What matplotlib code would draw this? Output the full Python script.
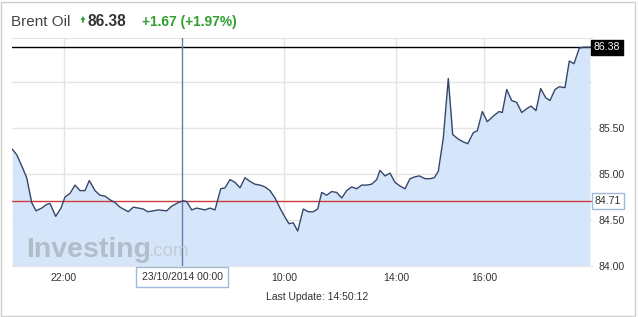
import matplotlib
matplotlib.use('Agg')
import matplotlib.pyplot as plt
from matplotlib.patches import Rectangle, Polygon

plt.rcParams['font.family'] = ['Liberation Sans', 'DejaVu Sans']

# sample positions along the (session) time axis and Brent prices
pos = [12.3, 16.7, 21.7, 26.7, 31.7, 36, 41.7, 46.7, 50, 55.7,
       61, 65, 70, 75, 80, 85, 89.3, 95, 100, 105,
       110, 115, 120, 125, 128.3, 133.3, 138.3, 143.3, 147.7, 153.3,
       158.3, 166.7, 171.7, 178.3, 183.3, 186.7, 191.7, 196.7, 205, 210,
       215, 220.7, 225, 230, 235, 240, 245, 250, 255, 260,
       265, 270, 275, 280, 285, 289, 293.3, 297.7, 303.3, 308.3,
       313.3, 317.7, 321.7, 326.7, 331.7, 336.7, 341.7, 346.7, 351.7, 356.7,
       361.7, 366.7, 371.7, 376.7, 380, 385, 390, 395, 400, 405,
       410, 415, 419.3, 425, 430, 434.3, 438.3, 443.3, 448.3, 452.7,
       458.3, 463.3, 467.7, 473.3, 477.3, 482.3, 487.3, 493.3, 499, 502.3,
       506.7, 511.7, 516.7, 521.7, 526.7, 531, 536, 540.7, 545.7, 550,
       555, 559.3, 565, 569.3, 574, 579.3, 583.3, 590]
price = [85.27, 85.21, 85.09, 84.96, 84.69, 84.60, 84.63, 84.67, 84.68, 84.54,
         84.63, 84.75, 84.79, 84.88, 84.82, 84.82, 84.93, 84.82, 84.77, 84.76,
         84.72, 84.69, 84.64, 84.61, 84.59, 84.64, 84.63, 84.62, 84.59, 84.60,
         84.61, 84.60, 84.65, 84.69, 84.71, 84.70, 84.61, 84.63, 84.61, 84.63,
         84.61, 84.84, 84.85, 84.94, 84.91, 84.85, 84.96, 84.92, 84.89, 84.88,
         84.86, 84.82, 84.74, 84.63, 84.53, 84.46, 84.47, 84.38, 84.62, 84.59,
         84.59, 84.62, 84.80, 84.77, 84.81, 84.80, 84.74, 84.82, 84.86, 84.84,
         84.88, 84.88, 84.89, 84.94, 85.04, 84.98, 85.01, 84.91, 84.87, 84.84,
         84.95, 84.97, 84.98, 84.95, 84.95, 84.96, 85.03, 85.39, 86.04, 85.43,
         85.38, 85.35, 85.33, 85.45, 85.47, 85.68, 85.57, 85.63, 85.68, 85.67,
         85.92, 85.80, 85.78, 85.67, 85.71, 85.74, 85.69, 85.93, 85.83, 85.80,
         85.92, 85.95, 85.94, 86.23, 86.20, 86.37, 86.38, 86.38]

tick_pos = [64, 182, 284, 396, 484]
tick_labels = ['22:00', '', '10:00', '14:00', '16:00']
y_ticks = [84.0, 84.5, 85.0, 85.5, 86.0]
y_labels = ['84.00', '84.50', '85.00', '85.50', '']

last_price = 86.38
prev_close = 84.71
cursor_pos = 182
cursor_label = '23/10/2014 00:00'

W, H = 638, 317
fig = plt.figure(figsize=(W / 100, H / 100), dpi=100)
fig.patch.set_facecolor('white')
fig.patches.append(Rectangle((1 / W, 1 / H), 634 / W, 314 / H, transform=fig.transFigure,
                             fill=False, edgecolor='#cfcfcf', linewidth=1))

ax = fig.add_axes([12 / W, 51 / H, 580 / W, 228 / H])
ax.set_xlim(12, 592)
ax.set_ylim(84.0, 86.48)

grid_c = '#e4e4e4'
for yv in y_ticks[1:]:
    ax.axhline(yv, color=grid_c, lw=1, zorder=0)
for xv in tick_pos:
    if xv != cursor_pos:
        ax.axvline(xv, color=grid_c, lw=1, zorder=0)

ax.fill_between(pos, price, 84.0, color='#d6e6fa', lw=0, zorder=1)
ax.plot(pos, price, color='#36456a', lw=1.0, zorder=4)

ax.axhline(prev_close, color='#cc3b3b', lw=1, zorder=3)
ax.axhline(last_price, color='black', lw=1, zorder=3)
ax.axvline(cursor_pos, color='#5f82aa', lw=1, zorder=3)

for s in ['top', 'bottom']:
    ax.spines[s].set_color(grid_c)
for s in ['left', 'right']:
    ax.spines[s].set_visible(False)

ax.set_xticks(tick_pos)
ax.set_xticklabels(tick_labels)
ax.yaxis.tick_right()
ax.set_yticks(y_ticks)
ax.set_yticklabels(y_labels)
ax.tick_params(axis='both', length=0, labelsize=7.6, labelcolor='#333333')
ax.tick_params(axis='x', pad=5)
ax.tick_params(axis='y', pad=5)

ytr = ax.get_yaxis_transform()
ax.text(1.003, last_price, '%.2f' % last_price, transform=ytr, ha='left', va='center',
        fontsize=7.6, color='white', zorder=6,
        bbox=dict(boxstyle='square,pad=0.25', fc='black', ec='black'))
ax.text(1.005, prev_close, '%.2f' % prev_close, transform=ytr, ha='left', va='center',
        fontsize=7.6, color='#333333', zorder=6,
        bbox=dict(boxstyle='square,pad=0.3', fc='white', ec='#9fb9d8'))

xtr = ax.get_xaxis_transform()
ax.text(cursor_pos, -0.048, cursor_label, transform=xtr, ha='center', va='center',
        fontsize=7.5, color='#333333', zorder=6,
        bbox=dict(boxstyle='square,pad=0.5', fc='white', ec='#9fb9d8'))

# header
green = '#2f9e2f'
fig.text(11 / W, 1 - 26 / H, 'Brent Oil', fontsize=11, color='#444444', va='baseline')
# small up arrow
arrow = [(80.5, 19.8), (83, 16.2), (85.5, 19.8), (83.9, 19.8), (83.9, 22.6),
         (82.1, 22.6), (82.1, 19.8)]
fig.patches.append(Polygon([(px / W, 1 - py / H) for px, py in arrow], closed=True,
                           transform=fig.transFigure, fc=green, ec='none'))
fig.text(88 / W, 1 - 26 / H, '86.38', fontsize=11.2, color='#333333', weight='bold',
         va='baseline')
fig.text(142 / W, 1 - 26 / H, '+1.67 (+1.97%)', fontsize=9.9, color=green,
         weight='bold', va='baseline')

# watermark
fig.text(26 / W, 1 - 257 / H, 'Investing', fontsize=20.5, weight='bold',
         color='#b3bcc9', va='baseline', zorder=5)
fig.text(148 / W, 1 - 256 / H, '.com', fontsize=13.5, color='#c4ccd8',
         va='baseline', zorder=5)

fig.text(317 / W, 1 - 297 / H, 'Last Update: 14:50:12', fontsize=7.5, color='#333333',
         ha='center', va='center')

fig.savefig('out.png', dpi=100)
